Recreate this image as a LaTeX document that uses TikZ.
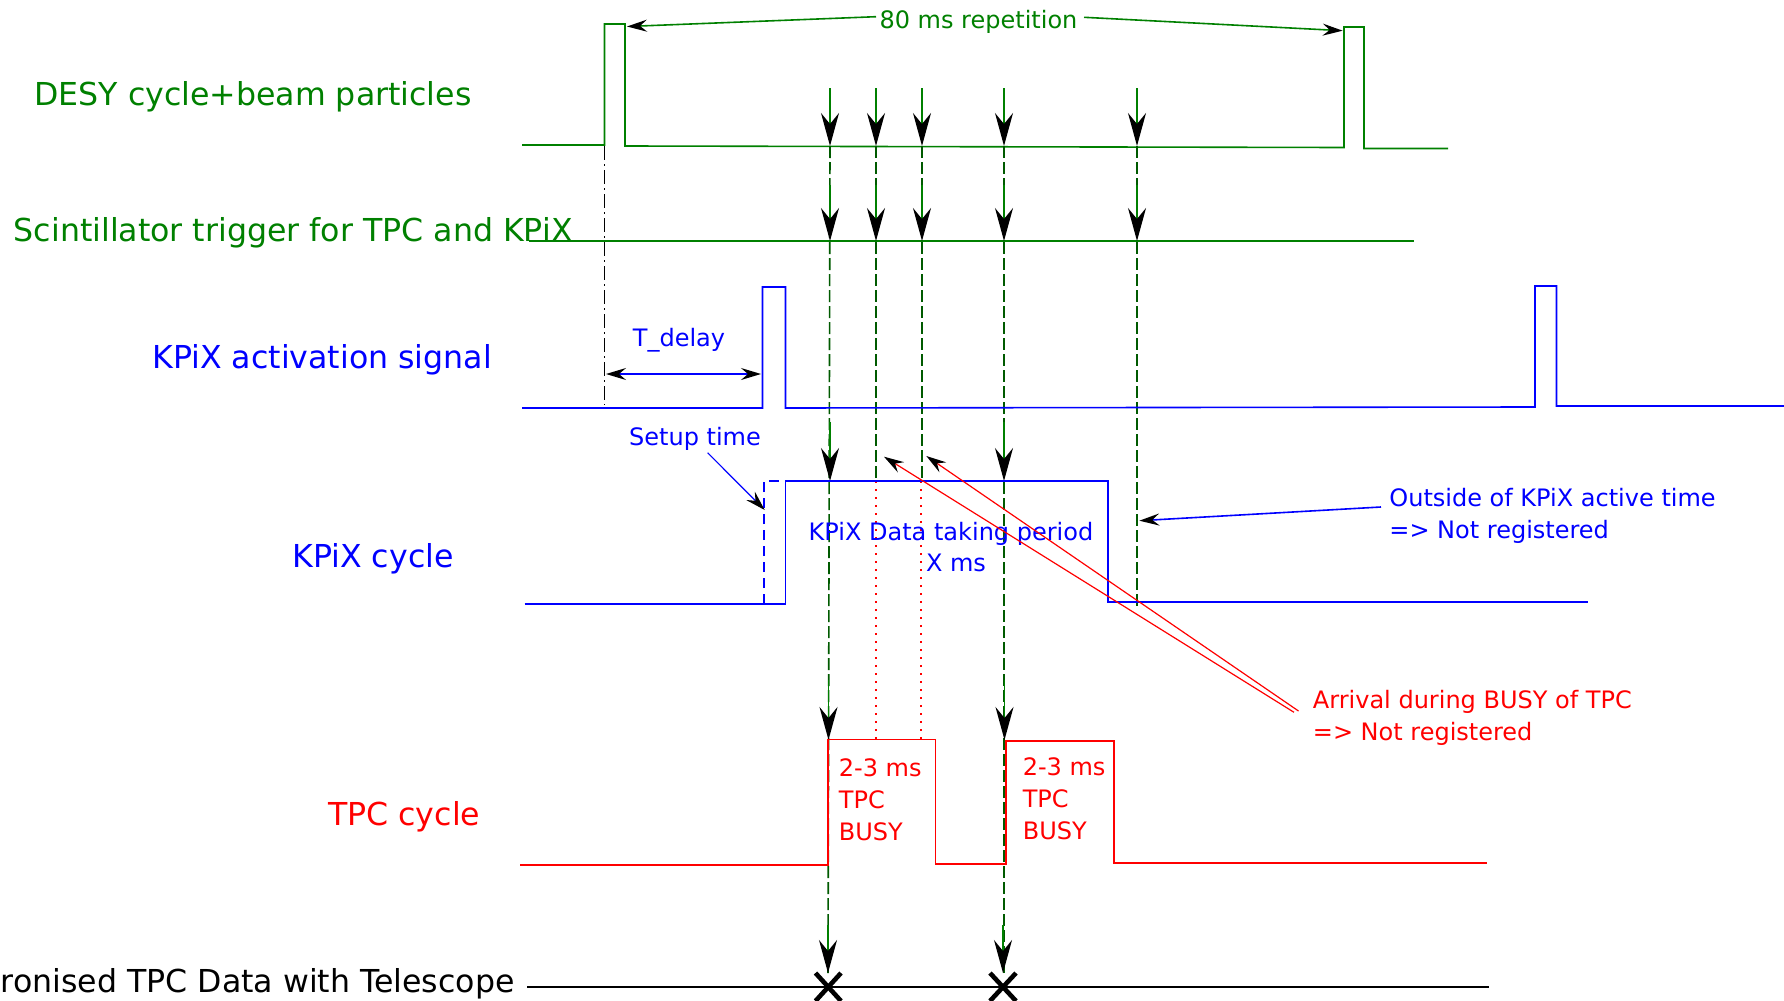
\documentclass[tikz,border=0pt]{standalone}
\usepackage{fontspec}
\setmainfont{DejaVu Sans}
\usetikzlibrary{arrows.meta}
\definecolor{sgreen}{RGB}{0,128,0}
\definecolor{dgreen}{RGB}{0,90,0}
\definecolor{sblue}{RGB}{0,0,255}
\definecolor{sred}{RGB}{255,0,0}
\begin{document}
\begin{tikzpicture}[x=0.5pt,y=-0.5pt,
  sig/.style={line width=0.8pt, line join=miter},
  bigtip/.style={-{Stealth[length=16.5pt,width=9pt,inset=5.5pt,color=black]}},
  smalltip/.style={-{Stealth[length=10pt,width=6pt,inset=3.5pt,color=black]}},
  bothtips/.style={{Stealth[length=10pt,width=6pt,inset=3.5pt,color=black]}-{Stealth[length=10pt,width=6pt,inset=3.5pt,color=black]}},
  vdash/.style={dgreen, line width=0.8pt, dash pattern=on 6pt off 2pt},
  rdot/.style={sred, line width=0.7pt, dash pattern=on 1pt off 3pt},
  shaft/.style={sgreen, line width=0.8pt, bigtip},
  biglabel/.style={font=\fontsize{15.8}{19}\selectfont, inner sep=0pt},
  smalllabel/.style={font=\fontsize{12}{16}\selectfont, inner sep=0pt},
]
\useasboundingbox (0,0) rectangle (1784,1001);
\clip (0,0) rectangle (1784,1001);

% ---------- left labels ----------
\node[biglabel, sgreen, anchor=base west] (lDesy) at (34,105.5) {DESY cycle+beam particles};
\node[biglabel, sgreen, anchor=base west] (lScint) at (13.4,241.7) {Scintillator trigger for TPC and KPiX};
\node[biglabel, sblue, anchor=base west] (lAct) at (152,368.3) {KPiX activation signal};
\node[biglabel, sblue, anchor=base west] (lCyc) at (292,567.7) {KPiX cycle};
\node[biglabel, sred, anchor=base west] (lTpc) at (327.7,825) {TPC cycle};
\node[biglabel, black, anchor=base east] (lSync) at (515,992) {ronised TPC Data with Telescope};

% ---------- DESY signal ----------
\draw[sgreen, sig] (522,145) -- (604.5,145) -- (604.5,24) -- (625,24) -- (625,146)
   -- (1344,147.5) -- (1344,27) -- (1364,27) -- (1364,148.5) -- (1448,148.5);
\node[smalllabel, sgreen, anchor=base] (rep) at (978.5,28.3) {80 ms repetition};
\coordinate (repL) at (876,16.7);
\coordinate (repR) at (1084,17.3);
\coordinate (pulse1) at (627,26.5);
\coordinate (pulse2) at (1342.7,30.7);
\draw[sgreen, line width=0.8pt, smalltip] (repL) -- (pulse1);
\draw[sgreen, line width=0.8pt, smalltip] (repR) -- (pulse2);

% ---------- scintillator ----------
\draw[sgreen, sig] (529,241) -- (1414,241);

% ---------- dash-dot reference line ----------
\draw[black, line width=0.6pt, dash pattern=on 7pt off 2pt on 1pt off 2pt] (604.5,146) -- (604.5,405);

% ---------- vertical trigger lines ----------
\draw[vdash] (830,146) -- (828,973);
\draw[vdash] (876,146) -- (876,481);
\draw[vdash] (922,146) -- (922,481);
\draw[vdash] (1004,146) -- (1004,973);
\draw[vdash] (1137,146) -- (1137,609);
\draw[rdot] (876,481) -- (876,740);
\draw[rdot] (921,481) -- (921,740);

% arrows at DESY baseline and scintillator
\foreach \x in {830,876,922,1004,1137} {
  \draw[shaft] (\x,88) -- (\x,146);
  \draw[shaft] (\x,185) -- (\x,241);
}
% arrows at KPiX cycle
\draw[shaft] (830,422) -- (830,481);
\draw[shaft] (1004,422) -- (1004,481);
% arrows at TPC cycle
\draw[shaft] (828.5,680) -- (828.5,740);
\draw[shaft] (1004.5,680) -- (1004.5,740);
% arrows at bottom
\draw[shaft] (828,925) -- (828,973);
\draw[shaft] (1003,925) -- (1003,973);

% ---------- KPiX activation signal ----------
\draw[sblue, sig] (522,408) -- (762.5,408) -- (762.5,287) -- (785.5,287) -- (785.5,408)
   -- (1535,407) -- (1535,286) -- (1556.5,286) -- (1556.5,406) -- (1784,406);
\node[smalllabel, sblue, anchor=base] (td) at (679,346.7) {T\_delay};
\coordinate (tdL) at (606,374);
\coordinate (tdR) at (761,374);
\draw[sblue, line width=0.8pt, bothtips] (tdL) -- (tdR);

% ---------- KPiX cycle ----------
\draw[sblue, sig] (524.5,604) -- (785.5,604) -- (785.5,481) -- (1108,481) -- (1108,602) -- (1588,602);
\draw[sblue, line width=0.8pt, dash pattern=on 5pt off 3pt] (764,604) -- (764,481) -- (785,481);
\node[smalllabel, sblue, anchor=base] (st) at (695,445) {Setup time};
\coordinate (stS) at (707.6,452.7);
\coordinate (stE) at (764.7,510);
\draw[sblue, line width=0.6pt, smalltip] (stS) -- (stE);
\node[smalllabel, sblue, anchor=base] (kd1) at (951,540) {KPiX Data taking period};
\node[smalllabel, sblue, anchor=base] (kd2) at (956,571.7) {X ms};

\node[smalllabel, sblue, anchor=base west] (out1) at (1389,506.7) {Outside of KPiX active time};
\node[smalllabel, sblue, anchor=base west] (out2) at (1389,538.3) {=> Not registered};
\coordinate (outS) at (1381,507);
\coordinate (outE) at (1139.3,520.7);
\draw[sblue, line width=0.8pt, smalltip] (outS) -- (outE);

% ---------- busy arrows ----------
\node[smalllabel, sred, anchor=base west] (arr1) at (1312.5,708.3) {Arrival during BUSY of TPC};
\node[smalllabel, sred, anchor=base west] (arr2) at (1312.5,740) {=> Not registered};
\coordinate (bS1) at (1294,712.3);
\coordinate (bE1) at (884,456.7);
\coordinate (bS2) at (1298.5,711);
\coordinate (bE2) at (926.3,456);
\draw[sred, line width=0.6pt, smalltip] (bS1) -- (bE1);
\draw[sred, line width=0.6pt, smalltip] (bS2) -- (bE2);

% ---------- TPC cycle ----------
\draw[sred, sig] (520,864.7) -- (828,864.7) -- (828,739.3) -- (935.4,739.3) -- (935.4,864)
   -- (1006,864) -- (1006,741) -- (1114,741) -- (1114,862.7) -- (1487,862.7);
\node[smalllabel, sred, anchor=base west] (b1a) at (838.5,776.7) {2-3 ms};
\node[smalllabel, sred, anchor=base west] (b1b) at (838.5,808.3) {TPC};
\node[smalllabel, sred, anchor=base west] (b1c) at (838.5,840.7) {BUSY};
\node[smalllabel, sred, anchor=base west] (b2a) at (1022.4,775.7) {2-3 ms};
\node[smalllabel, sred, anchor=base west] (b2b) at (1022.4,807.3) {TPC};
\node[smalllabel, sred, anchor=base west] (b2c) at (1022.4,839.3) {BUSY};

% ---------- synchronised data ----------
\draw[black, line width=0.8pt] (527,986.7) -- (1489,986.7);
\draw[black, line width=2.3pt] (815.5,973) -- (841,1001) (815.5,1001) -- (841,973);
\draw[black, line width=2.3pt] (990,973) -- (1016,1001) (990,1001) -- (1016,973);
\end{tikzpicture}
\end{document}
